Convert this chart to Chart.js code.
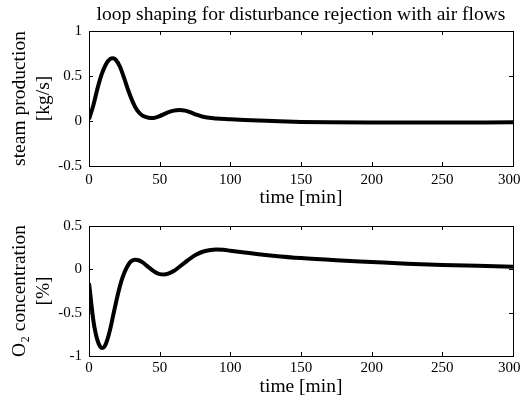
<!DOCTYPE html>
<html lang="en">
<head>
    <meta charset="UTF-8">
    <title>Loop shaping</title>
    <script src="https://cdn.jsdelivr.net/npm/chart.js@4.4.1/dist/chart.umd.min.js"></script>
    <style>
        body {
            margin: 0;
            background-color: #fff;
        }
        .wrap {
            position: relative;
            width: 520px;
            height: 399px;
        }
        .plot {
            position: absolute;
            left: 0;
        }
    </style>
</head>
<body>
    <div class="wrap">
        <div class="plot" style="top:0;width:520px;height:210px"><canvas id="steamChart"></canvas></div>
        <div class="plot" style="top:210px;width:520px;height:189px"><canvas id="o2Chart"></canvas></div>
    </div>

    <script>
        // time axis ticks and labels
        const timeTicks = [0, 50, 100, 150, 200, 250, 300];
        const titleText = 'loop shaping for disturbance rejection with air flows';

        // steam production response [kg/s]
        const steamTime = [0, 3, 6, 9, 12, 15, 17, 19, 22, 25, 28, 31, 34, 37, 40, 44, 47, 50, 55, 60, 64, 68, 72, 76, 80, 85, 90, 100, 110, 120, 130, 140, 150, 170, 200, 250, 300];
        const steamVals = [0.02, 0.17, 0.36, 0.52, 0.63, 0.69, 0.697, 0.68, 0.6, 0.47, 0.33, 0.21, 0.12, 0.07, 0.045, 0.033, 0.038, 0.055, 0.09, 0.115, 0.121, 0.115, 0.095, 0.07, 0.05, 0.035, 0.028, 0.02, 0.012, 0.005, 0, -0.006, -0.01, -0.014, -0.016, -0.016, -0.015];

        // O2 concentration response [%]
        const o2Time = [0, 1, 2, 3, 4, 6, 8, 9.5, 11, 13, 15, 17, 19, 21, 23, 25, 27, 29, 31, 33, 35, 38, 41, 44, 47, 50, 53, 56, 60, 64, 68, 72, 76, 80, 85, 90, 95, 100, 110, 120, 130, 150, 175, 200, 225, 250, 275, 300];
        const o2Vals = [-0.16, -0.3, -0.45, -0.58, -0.68, -0.82, -0.895, -0.907, -0.89, -0.81, -0.69, -0.54, -0.39, -0.25, -0.13, -0.04, 0.03, 0.08, 0.105, 0.11, 0.105, 0.08, 0.04, 0.0, -0.035, -0.055, -0.06, -0.05, -0.02, 0.03, 0.08, 0.13, 0.17, 0.2, 0.22, 0.228, 0.225, 0.215, 0.195, 0.175, 0.158, 0.13, 0.105, 0.085, 0.065, 0.05, 0.04, 0.03];

        const serif = 'Liberation Serif';

        function toPoints(xs, ys) {
            return xs.map((x, i) => ({ x: x, y: ys[i] }));
        }

        // box around the plot area with inward tick marks (matlab style)
        const boxTicks = {
            id: 'boxTicks',
            afterDatasetsDraw(chart) {
                const ctx = chart.ctx;
                const a = chart.chartArea;
                const xs = chart.scales.x;
                const ys = chart.scales.y;
                const len = 4;
                ctx.save();
                ctx.strokeStyle = '#000';
                ctx.lineWidth = 1;
                ctx.strokeRect(Math.round(a.left) + 0.5, Math.round(a.top) + 0.5,
                    Math.round(a.right - a.left), Math.round(a.bottom - a.top));
                ctx.beginPath();
                xs.ticks.forEach(t => {
                    const px = Math.round(xs.getPixelForValue(t.value)) + 0.5;
                    ctx.moveTo(px, a.bottom);
                    ctx.lineTo(px, a.bottom - len);
                    ctx.moveTo(px, a.top);
                    ctx.lineTo(px, a.top + len);
                });
                ys.ticks.forEach(t => {
                    const py = Math.round(ys.getPixelForValue(t.value)) + 0.5;
                    ctx.moveTo(a.left, py);
                    ctx.lineTo(a.left + len, py);
                    ctx.moveTo(a.right, py);
                    ctx.lineTo(a.right - len, py);
                });
                ctx.stroke();
                ctx.restore();
            }
        };

        function makeChart(id, pts, yMin, yMax, yTitle, opts) {
            return new Chart(document.getElementById(id), {
                type: 'line',
                data: {
                    datasets: [{
                        data: pts,
                        borderColor: '#000',
                        borderWidth: 4,
                        pointRadius: 0,
                        cubicInterpolationMode: 'monotone',
                        fill: false
                    }]
                },
                options: {
                    responsive: true,
                    maintainAspectRatio: false,
                    animation: false,
                    layout: { padding: { top: opts.padTop, left: 0, right: 7, bottom: 0 } },
                    plugins: {
                        legend: { display: false },
                        tooltip: { enabled: false },
                        title: {
                            display: opts.showTitle,
                            text: titleText,
                            fullSize: false,
                            color: '#000',
                            font: { family: serif, size: 19.5, weight: 'normal', lineHeight: 1.2 },
                            padding: { top: 3.3, bottom: 4.3 }
                        }
                    },
                    scales: {
                        x: {
                            type: 'linear',
                            min: 0,
                            max: 300,
                            afterBuildTicks: s => { s.ticks = timeTicks.map(v => ({ value: v })); },
                            afterFit: s => {
                                s.height = opts.xHeight;
                                s.paddingLeft = 0;
                                s.paddingRight = 0;
                            },
                            grid: { display: false, drawTicks: false },
                            border: { display: false },
                            ticks: {
                                color: '#000',
                                padding: opts.xTickPad,
                                maxRotation: 0,
                                font: { family: serif, size: 15 },
                                // last label sits against the window edge, as in the original
                                callback: v => v === 300 ? '300\u00a0\u00a0' : String(v)
                            },
                            title: {
                                display: true,
                                text: 'time [min]',
                                color: '#000',
                                padding: { top: 0, bottom: 0 },
                                font: { family: serif, size: 19.5, lineHeight: 1.23 }
                            }
                        },
                        y: {
                            min: yMin,
                            max: yMax,
                            afterFit: s => { s.width = 89; },
                            grid: { display: false, drawTicks: false },
                            border: { display: false },
                            ticks: {
                                color: '#000',
                                stepSize: 0.5,
                                padding: 7,
                                font: { family: serif, size: 15 },
                                callback: v => String(v)
                            },
                            title: {
                                display: true,
                                text: yTitle,
                                color: '#000',
                                padding: { top: 8, bottom: 0 },
                                font: { family: serif, size: 19.5, lineHeight: 1.23 }
                            }
                        }
                    }
                },
                plugins: [boxTicks]
            });
        }

        const steamChart = makeChart('steamChart', toPoints(steamTime, steamVals), -0.5, 1,
            ['steam production', '[kg/s]'],
            { showTitle: true, padTop: 0, xHeight: 44, xTickPad: 5 });

        const o2Chart = makeChart('o2Chart', toPoints(o2Time, o2Vals), -1, 0.5,
            ['O\u2082 concentration', '[%]'],
            { showTitle: false, padTop: 11, xHeight: 43, xTickPad: 3 });
    </script>
</body>
</html>
